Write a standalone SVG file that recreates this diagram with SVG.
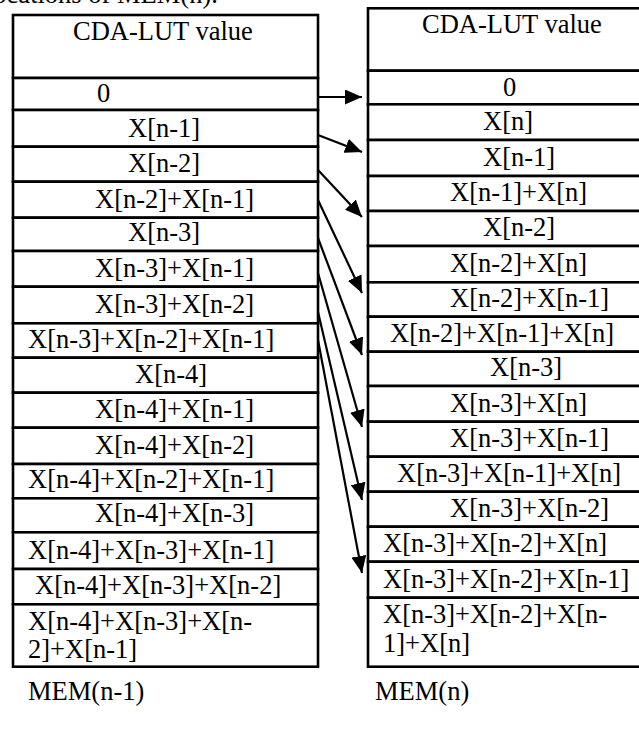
<svg xmlns="http://www.w3.org/2000/svg" width="639" height="729" viewBox="0 0 639 729">
<defs>
<style>
text{font-family:"Liberation Serif","Times New Roman",serif;font-size:26.5px;fill:#000}
.cell{fill:#fff;stroke:#000;stroke-width:2.6}
.conn{stroke:#000;stroke-width:2.2;fill:none}
</style>
<marker id="ah" viewBox="0 0 17 15" markerWidth="17" markerHeight="15" refX="17" refY="7.5" orient="auto" markerUnits="userSpaceOnUse">
<path d="M0,0 L17,7.5 L0,15 z" fill="#000"/>
</marker>
</defs>
<rect width="639" height="729" fill="#fff"/>
<text x="-14" y="3">locations of MEM(n).</text>

<g id="mem-n-1">
<g id="L-h"><rect class="cell" x="13" y="15" width="305" height="63"/><text x="73" y="40">CDA-LUT value</text></g>
<g id="L0"><rect class="cell" x="13" y="78" width="305" height="32"/><text x="97" y="102">0</text></g>
<g id="L1"><rect class="cell" x="13" y="110" width="305" height="36.7"/><text x="128" y="137">X[n-1]</text></g>
<g id="L2"><rect class="cell" x="13" y="146.7" width="305" height="35"/><text x="128" y="172">X[n-2]</text></g>
<g id="L3"><rect class="cell" x="13" y="181.7" width="305" height="36"/><text x="95" y="208">X[n-2]+X[n-1]</text></g>
<g id="L4"><rect class="cell" x="13" y="217.7" width="305" height="33.3"/><text x="128" y="241">X[n-3]</text></g>
<g id="L5"><rect class="cell" x="13" y="251" width="305" height="35.7"/><text x="95" y="277">X[n-3]+X[n-1]</text></g>
<g id="L6"><rect class="cell" x="13" y="286.7" width="305" height="36.6"/><text x="95" y="313">X[n-3]+X[n-2]</text></g>
<g id="L7"><rect class="cell" x="13" y="323.3" width="305" height="34.4"/><text x="28" y="348">X[n-3]+X[n-2]+X[n-1]</text></g>
<g id="L8"><rect class="cell" x="13" y="357.7" width="305" height="35"/><text x="135" y="383">X[n-4]</text></g>
<g id="L9"><rect class="cell" x="13" y="392.7" width="305" height="35"/><text x="95" y="418">X[n-4]+X[n-1]</text></g>
<g id="L10"><rect class="cell" x="13" y="427.7" width="305" height="36.3"/><text x="95" y="454">X[n-4]+X[n-2]</text></g>
<g id="L11"><rect class="cell" x="13" y="464" width="305" height="34.3"/><text x="28" y="488">X[n-4]+X[n-2]+X[n-1]</text></g>
<g id="L12"><rect class="cell" x="13" y="498.3" width="305" height="34"/><text x="95" y="522">X[n-4]+X[n-3]</text></g>
<g id="L13"><rect class="cell" x="13" y="532.3" width="305" height="36.7"/><text x="28" y="559">X[n-4]+X[n-3]+X[n-1]</text></g>
<g id="L14"><rect class="cell" x="13" y="569" width="305" height="35.3"/><text x="35" y="594">X[n-4]+X[n-3]+X[n-2]</text></g>
<g id="L15"><rect class="cell" x="13" y="604.3" width="305" height="62.4"/><text x="28" y="630">X[n-4]+X[n-3]+X[n-</text><text x="28" y="658">2]+X[n-1]</text></g>
<g id="L-label"><text x="28" y="700">MEM(n-1)</text></g>
</g>

<g id="mem-n">
<g id="R-h"><rect class="cell" x="368" y="8.3" width="290" height="62.4"/><text x="422" y="33">CDA-LUT value</text></g>
<g id="R0"><rect class="cell" x="368" y="70.7" width="290" height="33.6"/><text x="503" y="96">0</text></g>
<g id="R1"><rect class="cell" x="368" y="104.3" width="290" height="35.7"/><text x="483" y="130">X[n]</text></g>
<g id="R2"><rect class="cell" x="368" y="140" width="290" height="36"/><text x="483" y="166">X[n-1]</text></g>
<g id="R3"><rect class="cell" x="368" y="176" width="290" height="35"/><text x="450" y="201">X[n-1]+X[n]</text></g>
<g id="R4"><rect class="cell" x="368" y="211" width="290" height="35"/><text x="483" y="236">X[n-2]</text></g>
<g id="R5"><rect class="cell" x="368" y="246" width="290" height="36.3"/><text x="450" y="272">X[n-2]+X[n]</text></g>
<g id="R6"><rect class="cell" x="368" y="282.3" width="290" height="34.4"/><text x="450" y="307">X[n-2]+X[n-1]</text></g>
<g id="R7"><rect class="cell" x="368" y="316.7" width="290" height="35"/><text x="390" y="342">X[n-2]+X[n-1]+X[n]</text></g>
<g id="R8"><rect class="cell" x="368" y="351.7" width="290" height="34.3"/><text x="490" y="376">X[n-3]</text></g>
<g id="R9"><rect class="cell" x="368" y="386" width="290" height="35.7"/><text x="450" y="412">X[n-3]+X[n]</text></g>
<g id="R10"><rect class="cell" x="368" y="421.7" width="290" height="35"/><text x="450" y="447">X[n-3]+X[n-1]</text></g>
<g id="R11"><rect class="cell" x="368" y="456.7" width="290" height="35"/><text x="397" y="482">X[n-3]+X[n-1]+X[n]</text></g>
<g id="R12"><rect class="cell" x="368" y="491.7" width="290" height="35"/><text x="450" y="517">X[n-3]+X[n-2]</text></g>
<g id="R13"><rect class="cell" x="368" y="526.7" width="290" height="35"/><text x="383" y="552">X[n-3]+X[n-2]+X[n]</text></g>
<g id="R14"><rect class="cell" x="368" y="561.7" width="290" height="36"/><text x="383" y="588">X[n-3]+X[n-2]+X[n-1]</text></g>
<g id="R15"><rect class="cell" x="368" y="597.7" width="290" height="69"/><text x="383" y="623">X[n-3]+X[n-2]+X[n-</text><text x="383" y="652">1]+X[n]</text></g>
<g id="R-label"><text x="375" y="700">MEM(n)</text></g>
</g>

<g id="connectors">
<line class="conn" x1="318" y1="97" x2="362" y2="97" marker-end="url(#ah)"/>
<line class="conn" x1="318" y1="135" x2="362" y2="152" marker-end="url(#ah)"/>
<line class="conn" x1="318" y1="170" x2="362" y2="217" marker-end="url(#ah)"/>
<line class="conn" x1="318" y1="200" x2="362" y2="293" marker-end="url(#ah)"/>
<line class="conn" x1="318" y1="238" x2="362" y2="355" marker-end="url(#ah)"/>
<line class="conn" x1="318" y1="273" x2="362" y2="427" marker-end="url(#ah)"/>
<line class="conn" x1="318" y1="312" x2="362" y2="500" marker-end="url(#ah)"/>
<line class="conn" x1="318" y1="340" x2="362" y2="573" marker-end="url(#ah)"/>
</g>
</svg>
